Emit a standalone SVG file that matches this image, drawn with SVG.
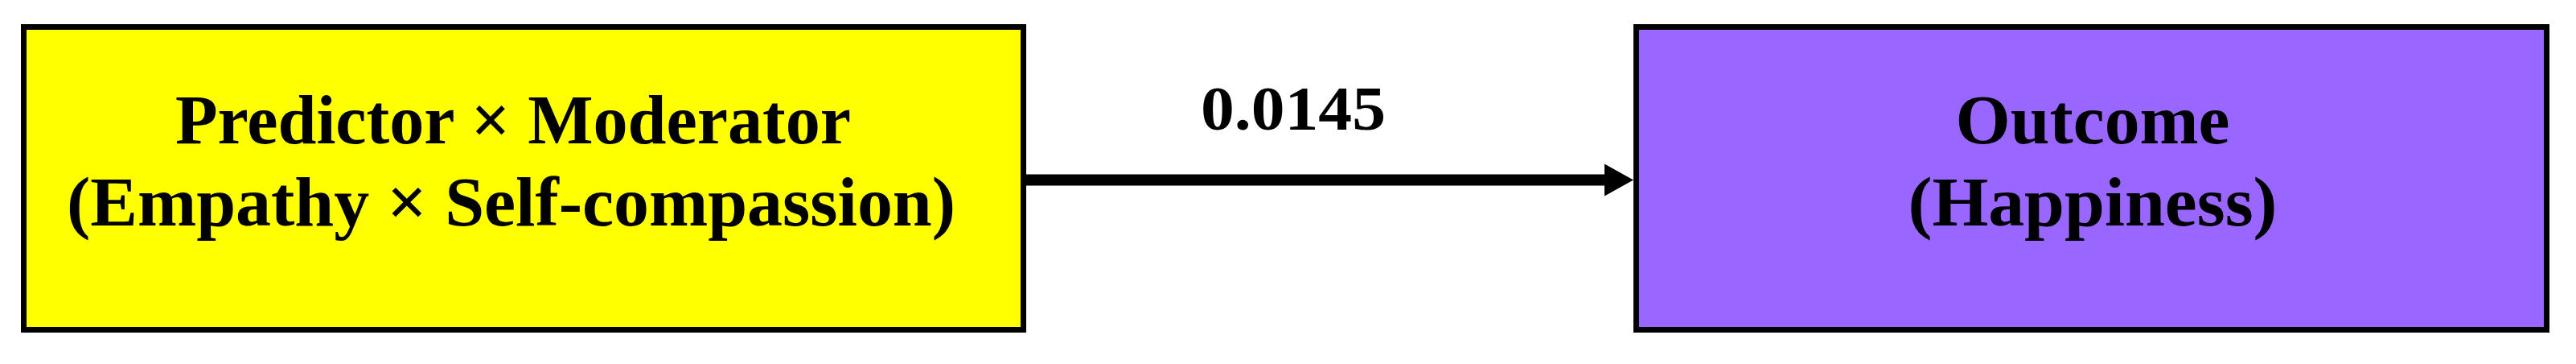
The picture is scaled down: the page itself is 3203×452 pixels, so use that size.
<svg xmlns="http://www.w3.org/2000/svg" width="3203" height="452" viewBox="0 0 3203 452">
<style>
.box{stroke:#000;stroke-width:7}
.t{font-family:"Liberation Serif","Times New Roman",serif;font-weight:bold;font-size:86px;fill:#000;text-anchor:middle}
.lbl{font-size:78px}
</style>
<rect width="3203" height="452" fill="#fff"/>
<g id="connectors">
<line x1="1276" y1="223.5" x2="1997" y2="223.5" stroke="#000" stroke-width="14"/>
<polygon points="1995,203.5 2031,223.5 1995,243.5" fill="#000"/>
<text class="t lbl" x="1608" y="161" textLength="230" lengthAdjust="spacingAndGlyphs">0.0145</text>
</g>
<g id="predictor">
<rect class="box" x="29.5" y="33.5" width="1243" height="376" fill="#ffff00"/>
<text class="t" x="638" y="178" textLength="840" lengthAdjust="spacingAndGlyphs">Predictor × Moderator</text>
<text class="t" x="635.5" y="280" textLength="1105" lengthAdjust="spacingAndGlyphs">(Empathy × Self-compassion)</text>
</g>
<g id="outcome">
<rect class="box" x="2034.5" y="33.5" width="1132" height="376" fill="#9966ff"/>
<text class="t" x="2602" y="178" textLength="341" lengthAdjust="spacingAndGlyphs">Outcome</text>
<text class="t" x="2602" y="280" textLength="459" lengthAdjust="spacingAndGlyphs">(Happiness)</text>
</g>
</svg>
